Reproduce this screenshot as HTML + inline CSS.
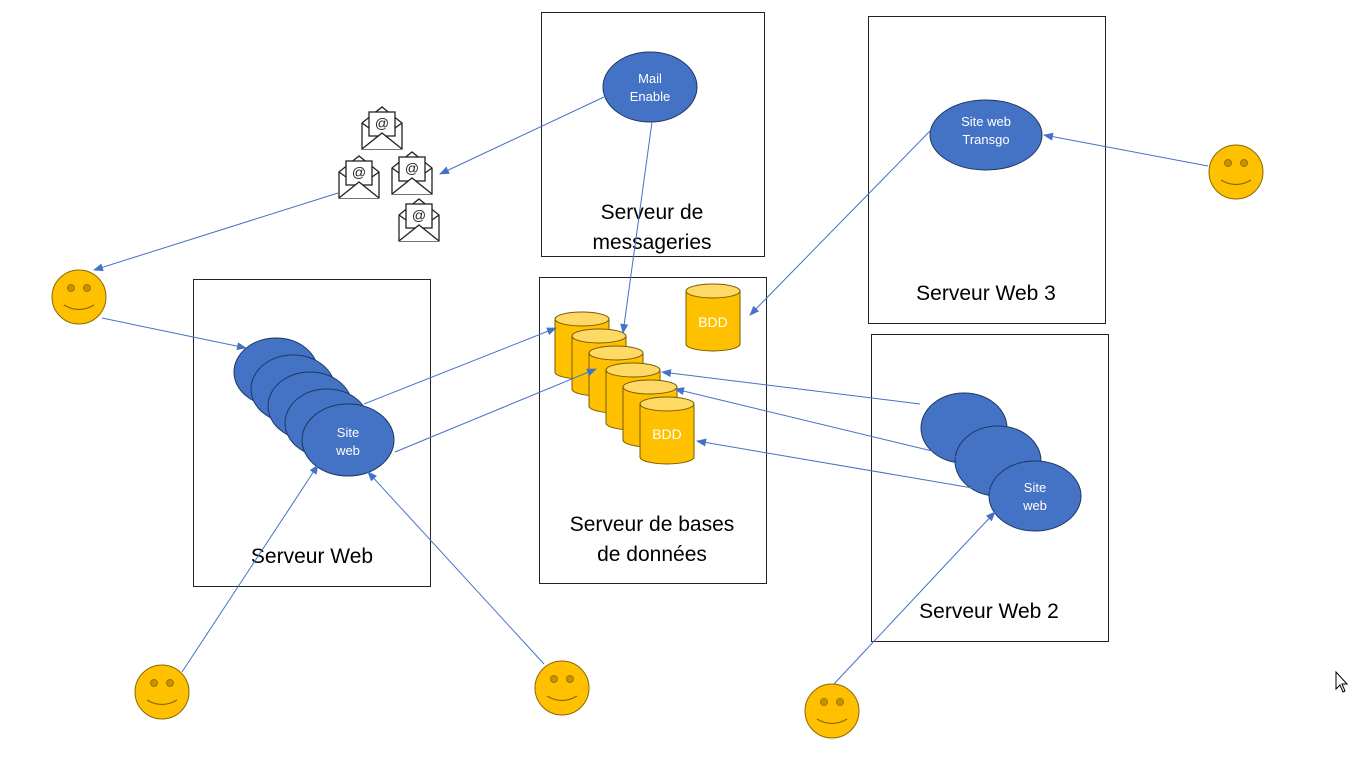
<!DOCTYPE html>
<html><head><meta charset="utf-8"><style>
html,body{margin:0;padding:0;background:#fff;}
svg{display:block;font-family:"Liberation Sans",Calibri,sans-serif;}
.box{fill:#fff;stroke:#222;stroke-width:1;}
.ell{fill:#4472C4;stroke:#1f3864;stroke-width:1;}
.cyl{fill:#FFC000;stroke:#7a5c00;stroke-width:1;}
.ctop{fill:#FFD966;stroke:#7a5c00;stroke-width:1;}
.ln{stroke:#4472C4;stroke-width:1;fill:none;marker-end:url(#a);}
.lbl{font-size:21px;fill:#000;text-anchor:middle;}
.wt{font-size:13px;fill:#fff;text-anchor:middle;}
.env{fill:#fff;stroke:#222;stroke-width:1.3;}
</style></head><body>
<svg width="1354" height="760" viewBox="0 0 1354 760" xmlns="http://www.w3.org/2000/svg">
<defs>
<marker id="a" markerWidth="10" markerHeight="8" refX="9" refY="4" orient="auto" markerUnits="userSpaceOnUse"><path d="M0,0 L10,4 L0,8 z" fill="#4472C4"/></marker>
<g id="smile"><circle r="27" fill="#FFC000" stroke="#8a6a00" stroke-width="1"/><circle cx="-8" cy="-9" r="3.5" fill="#c69200" stroke="#8a6a00" stroke-width="0.8"/><circle cx="8" cy="-9" r="3.5" fill="#c69200" stroke="#8a6a00" stroke-width="0.8"/><path d="M-15,8 Q0,17 15,8" stroke="#8a6a00" stroke-width="1.2" fill="none"/></g>
<g id="env"><path class="env" d="M0,16 L20,0 L40,16 L40,42 L0,42 Z"/><rect class="env" x="7" y="5" width="26" height="24"/><path class="env" d="M0,16 L7,21 M40,16 L33,21 M0,42 L20,26 L40,42" fill="none"/><text x="20" y="21" font-size="14" text-anchor="middle" fill="#222">@</text></g>
<g id="cyl"><path class="cyl" d="M0,7 L0,60 A27,7 0 0 0 54,60 L54,7"/><ellipse class="ctop" cx="27" cy="7" rx="27" ry="7"/></g>
</defs>

<rect class="box" x="541.5" y="12.5" width="223" height="244"/>
<rect class="box" x="868.5" y="16.5" width="237" height="307"/>
<rect class="box" x="193.5" y="279.5" width="237" height="307"/>
<rect class="box" x="539.5" y="277.5" width="227" height="306"/>
<rect class="box" x="871.5" y="334.5" width="237" height="307"/>

<text class="lbl" x="652" y="219">Serveur de</text>
<text class="lbl" x="652" y="249">messageries</text>
<text class="lbl" x="986" y="300">Serveur Web 3</text>
<text class="lbl" x="312" y="563">Serveur Web</text>
<text class="lbl" x="652" y="531">Serveur de bases</text>
<text class="lbl" x="652" y="561">de données</text>
<text class="lbl" x="989" y="618">Serveur Web 2</text>

<use href="#env" x="362" y="107"/>
<use href="#env" x="339" y="156"/>
<use href="#env" x="392" y="152"/>
<use href="#env" x="399" y="199"/>

<use href="#cyl" x="686" y="284"/>
<text class="wt" x="713" y="327" style="font-size:14px">BDD</text>
<use href="#cyl" x="555" y="312"/>
<use href="#cyl" x="572" y="329"/>
<use href="#cyl" x="589" y="346"/>
<use href="#cyl" x="606" y="363"/>
<use href="#cyl" x="623" y="380"/>
<use href="#cyl" x="640" y="397"/>
<text class="wt" x="667" y="439" style="font-size:14px">BDD</text>

<ellipse class="ell" cx="650" cy="87" rx="47" ry="35"/>
<text class="wt" x="650" y="83">Mail</text><text class="wt" x="650" y="101">Enable</text>
<ellipse class="ell" cx="986" cy="135" rx="56" ry="35"/>
<text class="wt" x="986" y="126">Site web</text><text class="wt" x="986" y="144">Transgo</text>

<ellipse class="ell" cx="276" cy="372" rx="42" ry="34"/>
<ellipse class="ell" cx="293" cy="389" rx="42" ry="34"/>
<ellipse class="ell" cx="310" cy="406" rx="42" ry="34"/>
<ellipse class="ell" cx="327" cy="423" rx="42" ry="34"/>
<ellipse class="ell" cx="348" cy="440" rx="46" ry="36"/>
<text class="wt" x="348" y="437">Site</text><text class="wt" x="348" y="455">web</text>

<ellipse class="ell" cx="964" cy="428" rx="43" ry="35"/>
<ellipse class="ell" cx="998" cy="461" rx="43" ry="35"/>
<ellipse class="ell" cx="1035" cy="496" rx="46" ry="35"/>
<text class="wt" x="1035" y="492">Site</text><text class="wt" x="1035" y="510">web</text>

<use href="#smile" x="79" y="297"/>
<use href="#smile" x="1236" y="172"/>
<use href="#smile" x="162" y="692"/>
<use href="#smile" x="562" y="688"/>
<use href="#smile" x="832" y="711"/>

<line class="ln" x1="604" y1="97" x2="440" y2="174"/>
<line class="ln" x1="338" y1="193" x2="94" y2="270"/>
<line class="ln" x1="102" y1="318" x2="246" y2="348"/>
<line class="ln" x1="652" y1="122" x2="623" y2="333"/>
<line class="ln" x1="930" y1="131" x2="750" y2="315"/>
<line class="ln" x1="1208" y1="166" x2="1044" y2="135"/>
<line class="ln" x1="364" y1="404" x2="556" y2="328"/>
<line class="ln" x1="395" y1="452" x2="596" y2="369"/>
<line class="ln" x1="920" y1="404" x2="662" y2="372"/>
<line class="ln" x1="957" y1="457" x2="675" y2="389"/>
<line class="ln" x1="990" y1="491" x2="697" y2="441"/>
<line class="ln" x1="182" y1="672" x2="318" y2="465"/>
<line class="ln" x1="544" y1="664" x2="368" y2="472"/>
<line class="ln" x1="834" y1="684" x2="995" y2="512"/>

<path d="M1336,672 L1336,689 L1340,685 L1343,692 L1345,691 L1342,684 L1347,684 Z" fill="#fff" stroke="#000" stroke-width="1"/>
</svg>
</body></html>
